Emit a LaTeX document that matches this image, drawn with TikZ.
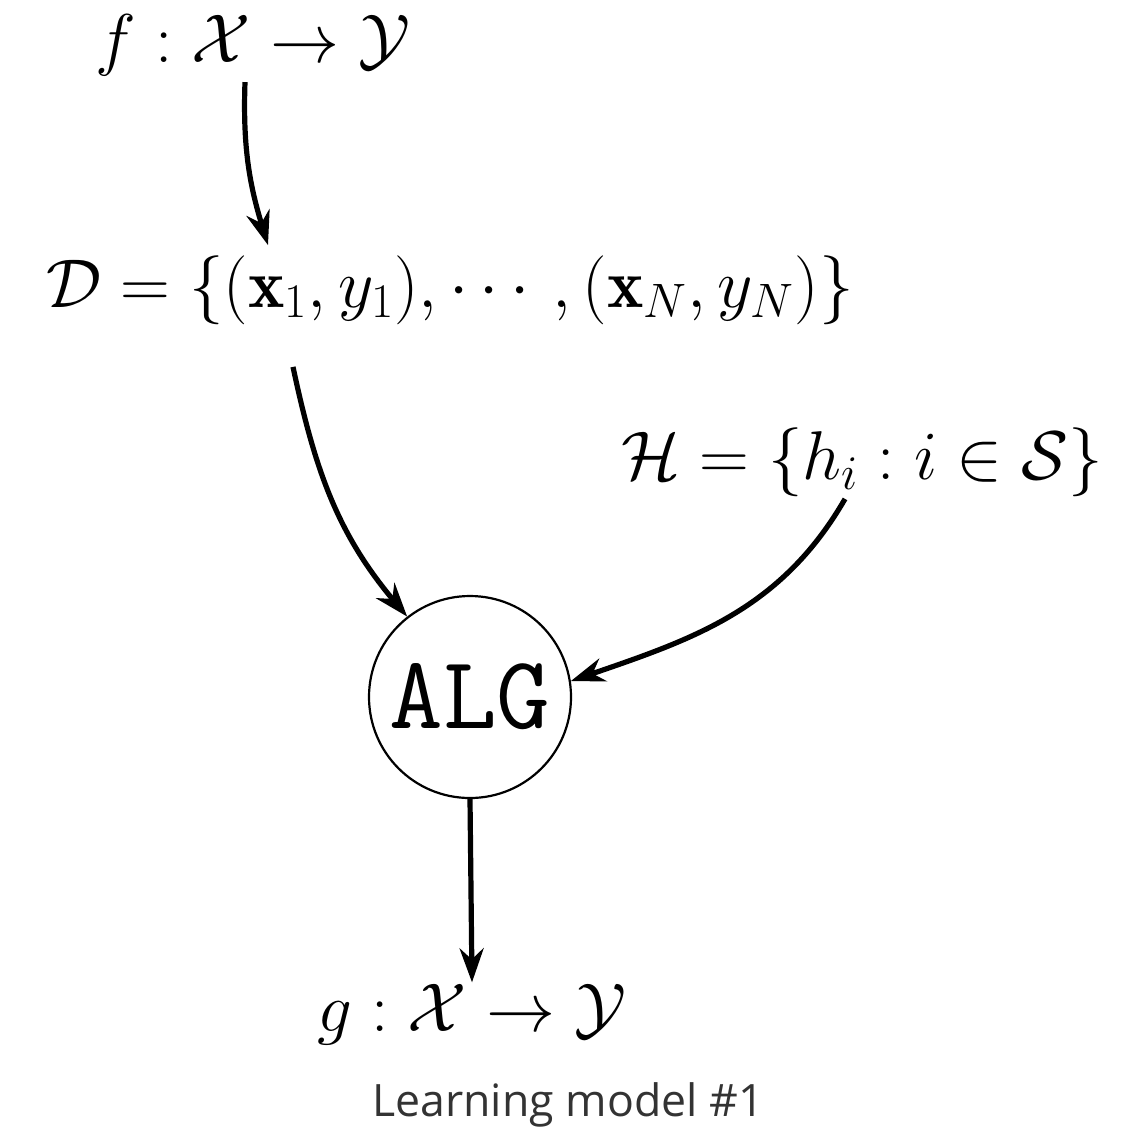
\RequirePackage{fix-cm}
\documentclass[tikz,border=0pt]{standalone}
\usepackage{amsmath}
\usepackage{fontspec}
\newfontfamily\capfont{Open Sans}
\usetikzlibrary{arrows.meta}
\definecolor{capgray}{HTML}{333333}
\tikzset{
  >={Stealth[length=17pt,width=12pt]},
  mathlbl/.style={inner sep=1pt, font=\fontsize{34.5}{40}\selectfont},
  flow/.style={->, line width=2.6pt},
  algnode/.style={draw, circle, line width=1.1pt, minimum size=101pt, inner sep=0pt,
    font=\fontsize{52}{60}\selectfont\ttfamily}
}
\begin{document}
\begin{tikzpicture}[x=0.5pt, y=-0.5pt]
  \useasboundingbox (0,0) rectangle (1133,1132);

  % target function
  \node[mathlbl] (f) at (253,45) {$f:\mathcal{X}\to\mathcal{Y}$};

  % data set
  \node[mathlbl] (D) at (450,290) {$\mathcal{D}=\{(\mathbf{x}_1,y_1),\cdots,(\mathbf{x}_N,y_N)\}$};

  % hypothesis set
  \node[mathlbl] (H) at (862,462) {$\mathcal{H}=\{h_i:i\in\mathcal{S}\}$};

  % algorithm
  \node[algnode] (alg) at (470,697) {ALG};

  % final hypothesis
  \node[mathlbl] (g) at (472,1015) {$g:\mathcal{X}\to\mathcal{Y}$};

  % caption
  \node[font=\fontsize{22.3}{27}\selectfont\capfont, text=capgray] (cap) at (568,1105) {Learning model \#1};

  % arrows
  \draw[flow] ([xshift=-4pt,yshift=-2pt]f.south) to[out=-92, in=107] ([xshift=-91pt,yshift=4pt]D.north);
  \draw[flow] ([xshift=-78.5pt,yshift=-20pt]D.south) to[out=-78, in=130] (alg.128);
  \draw[flow] ([xshift=-8.5pt]H.south) to[out=-120, in=19] (alg.9);
  \draw[flow] (alg.south) -- (g.north);
\end{tikzpicture}
\end{document}
